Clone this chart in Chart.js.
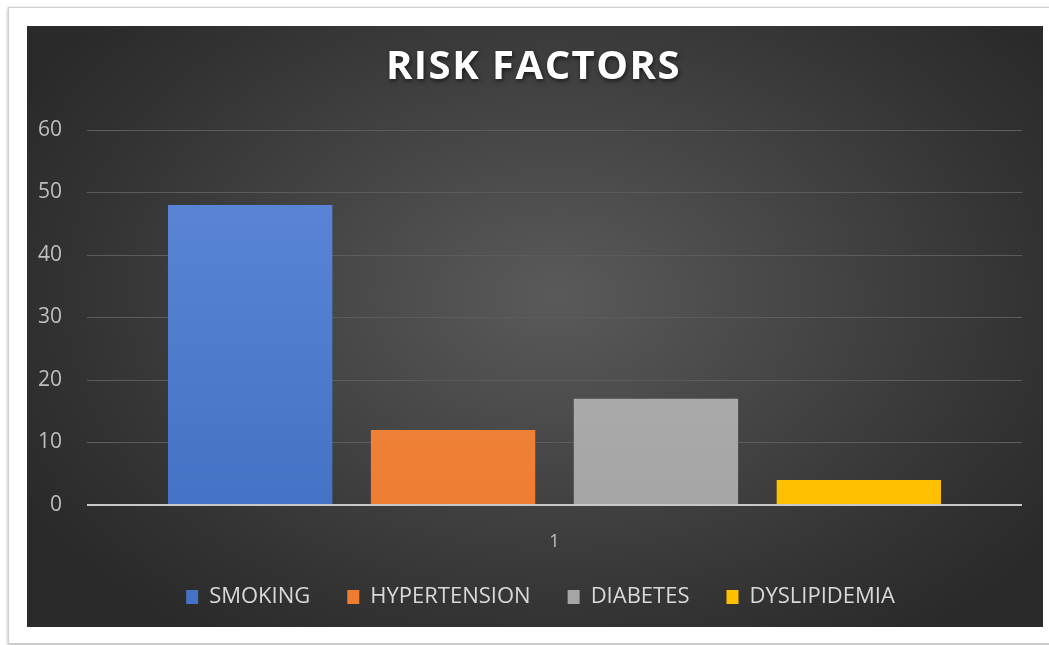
<!DOCTYPE html>
<html>
<head>
<meta charset="utf-8">
<script src="https://cdn.jsdelivr.net/npm/chart.js@4/dist/chart.umd.min.js"></script>
<style>
  html, body { margin: 0; padding: 0; background: #ffffff; width: 1049px; height: 645px; overflow: hidden; }
  #frame { position: absolute; left: 8px; top: 7px; width: 1060px; height: 635px; border: 1px solid #cfcfcf; box-shadow: 0 1px 3px rgba(0,0,0,0.35); background: #fff; }
  #panel { position: absolute; left: 27px; top: 26px; width: 1016px; height: 601px;
    background: radial-gradient(ellipse 60% 70% at 52% 45%, #5a5a5a 0%, #464646 40%, #333333 78%, #2a2a2a 100%); }
  canvas { display: block; }
</style>
</head>
<body>
<div id="frame"></div>
<div id="panel"><canvas id="c" width="1016" height="601"></canvas></div>
<script>
const categories = ['1'];
const seriesNames = ['SMOKING', 'HYPERTENSION', 'DIABETES', 'DYSLIPIDEMIA'];
const smoking = [48];
const hypertension = [12];
const diabetes = [17];
const dyslipidemia = [4];
const yTicks = [0, 10, 20, 30, 40, 50, 60];

const baseColors = ['#4472C4', '#ED7D31', '#A5A5A5', '#FFC000'];
const topColors = ['#5f89da', '#f39050', '#b5b5b5', '#ffcb2e'];

function grad(i) {
  return function(ctx) {
    const chart = ctx.chart;
    const a = chart.chartArea;
    if (!a) return baseColors[i];
    const g = chart.ctx.createLinearGradient(0, a.top, 0, a.bottom);
    g.addColorStop(0, topColors[i]);
    g.addColorStop(1, baseColors[i]);
    return g;
  };
}

const values = [smoking, hypertension, diabetes, dyslipidemia];
const datasets = seriesNames.map((n, i) => ({
  label: n,
  data: values[i],
  backgroundColor: grad(i),
  borderWidth: 0,
  categoryPercentage: 0.868,
  barPercentage: 0.81
}));

const tweaks = {
  id: 'tweaks',
  afterLayout(chart) {
    const lg = chart.legend;
    if (lg) { lg.left += 16; lg.right += 16; }
    const tb = chart.titleBlock;
    if (tb) { tb.left += 9; tb.right += 9; }
    if (tb && !tb._wrapped) {
      const orig = tb.draw.bind(tb);
      tb.draw = function() {
        const c = chart.ctx;
        c.save();
        c.shadowColor = 'rgba(0,0,0,0.6)';
        c.shadowBlur = 4;
        c.shadowOffsetX = 1;
        c.shadowOffsetY = 2;
        c.letterSpacing = '1.5px';
        orig();
        c.restore();
      };
      tb._wrapped = true;
    }
  }
};

new Chart(document.getElementById('c'), {
  type: 'bar',
  data: { labels: categories, datasets: datasets },
  plugins: [tweaks],
  options: {
    responsive: false,
    animation: false,
    layout: { padding: { left: 0, right: 21, top: 0, bottom: 9 } },
    plugins: {
      title: {
        display: true,
        text: 'RISK FACTORS',
        color: '#ffffff',
        font: { family: 'Open Sans', size: 40, weight: 'bold', lineHeight: 1.2 },
        padding: { top: 17.5, bottom: 38.5 }
      },
      legend: {
        position: 'bottom',
        labels: {
          color: '#d9d9d9',
          font: { family: 'Open Sans', size: 22 },
          boxWidth: 12,
          boxHeight: 14,
          padding: 37
        }
      },
      tooltip: { enabled: false }
    },
    scales: {
      x: {
        afterFit: s => { s.height = 44; },
        grid: { display: false, drawTicks: false },
        border: { display: false },
        ticks: { color: '#bfbfbf', font: { family: 'Open Sans', size: 18 }, padding: 26, maxRotation: 0, minRotation: 0 }
      },
      y: {
        min: 0, max: 60,
        afterFit: s => { s.width = 60; },
        afterBuildTicks: s => { s.ticks = yTicks.map(v => ({ value: v })); },
        border: { display: false },
        grid: {
          drawTicks: false,
          color: c => c.tick && c.tick.value === 0 ? '#c8c8c8' : '#5c5c5c',
          lineWidth: c => c.tick && c.tick.value === 0 ? 2 : 1
        },
        ticks: { color: '#bfbfbf', font: { family: 'Open Sans', size: 21 }, padding: 25 }
      }
    }
  }
});
</script>
</body>
</html>
